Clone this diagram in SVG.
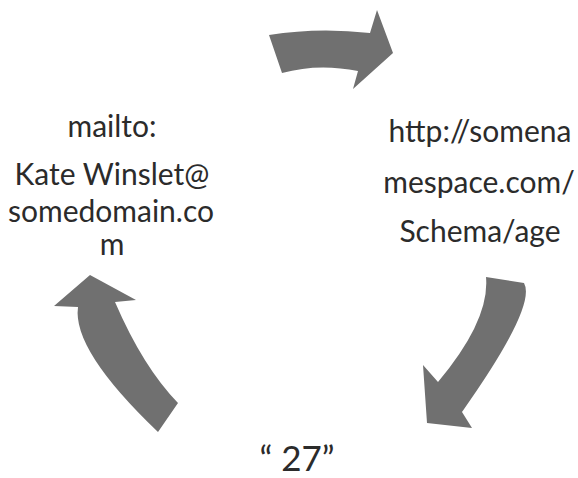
<svg xmlns="http://www.w3.org/2000/svg" width="578" height="478" viewBox="0 0 578 478">
<style>
.arr{fill:#707070;stroke:none}
.t{font-family:Lato,"Open Sans",sans-serif;font-size:30px;fill:#2b2b2b;text-anchor:middle}
</style>
<rect width="578" height="478" fill="#ffffff"/>
<g id="connectors">
<path id="arrow-top" class="arr" d="M269,35 Q318,27 370,33 L377,10 L393,53 L353,89 L358,71 Q318,63 282,73 Z"/>
<path id="arrow-right" class="arr" d="M486,277 Q490,320 438,382 L423,365 L427,423 L472,428 L462,412 Q537,306 524,283 Z"/>
<path id="arrow-left" class="arr" d="M158,432 Q72,350 78,307 L54,306 L90,275 L136,300 L115,302 Q143,367 178,403 Z"/>
</g>
<g id="node-subject">
<text class="t" x="112" y="137">mailto:</text>
<text class="t" x="112" y="185">Kate Winslet@</text>
<text class="t" x="111" y="222">somedomain.co</text>
<text class="t" x="112" y="255">m</text>
</g>
<g id="node-predicate">
<text class="t" x="480" y="142">http://somena</text>
<text class="t" x="479" y="193">mespace.com/</text>
<text class="t" x="480" y="242">Schema/age</text>
</g>
<g id="node-object">
<text class="t" x="297" y="471" style="font-size:35px">“ 27”</text>
</g>
</svg>
